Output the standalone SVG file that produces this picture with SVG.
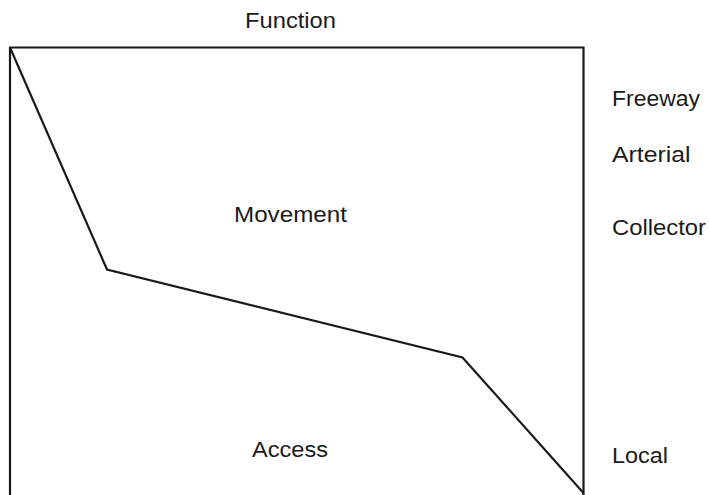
<svg xmlns="http://www.w3.org/2000/svg" width="709" height="495" viewBox="0 0 709 495">
<style>
  .ln { fill: none; stroke: #1a1a1a; stroke-width: 2.2; stroke-linejoin: miter; }
  .t { font-family: "Liberation Sans", Arial, sans-serif; font-size: 22px; fill: #1a1a1a; }
</style>
<rect width="709" height="495" fill="#ffffff"/>
<g id="frame">
  <path class="ln" d="M10,495 V47.5 H583.5 V495"/>
</g>
<g id="connectors">
  <polyline class="ln" points="10,47.5 107,269.5 462.5,357.5 583.5,493"/>
</g>
<g id="title"><text class="t" x="245" y="28" textLength="91" lengthAdjust="spacingAndGlyphs">Function</text></g>
<g id="movement"><text class="t" x="234" y="222" textLength="113" lengthAdjust="spacingAndGlyphs">Movement</text></g>
<g id="access"><text class="t" x="252" y="457" textLength="76" lengthAdjust="spacingAndGlyphs">Access</text></g>
<g id="freeway"><text class="t" x="612" y="106" textLength="88" lengthAdjust="spacingAndGlyphs">Freeway</text></g>
<g id="arterial"><text class="t" x="612" y="162" textLength="78.5" lengthAdjust="spacingAndGlyphs">Arterial</text></g>
<g id="collector"><text class="t" x="612" y="235" textLength="94" lengthAdjust="spacingAndGlyphs">Collector</text></g>
<g id="local"><text class="t" x="612" y="463" textLength="56" lengthAdjust="spacingAndGlyphs">Local</text></g>
</svg>
